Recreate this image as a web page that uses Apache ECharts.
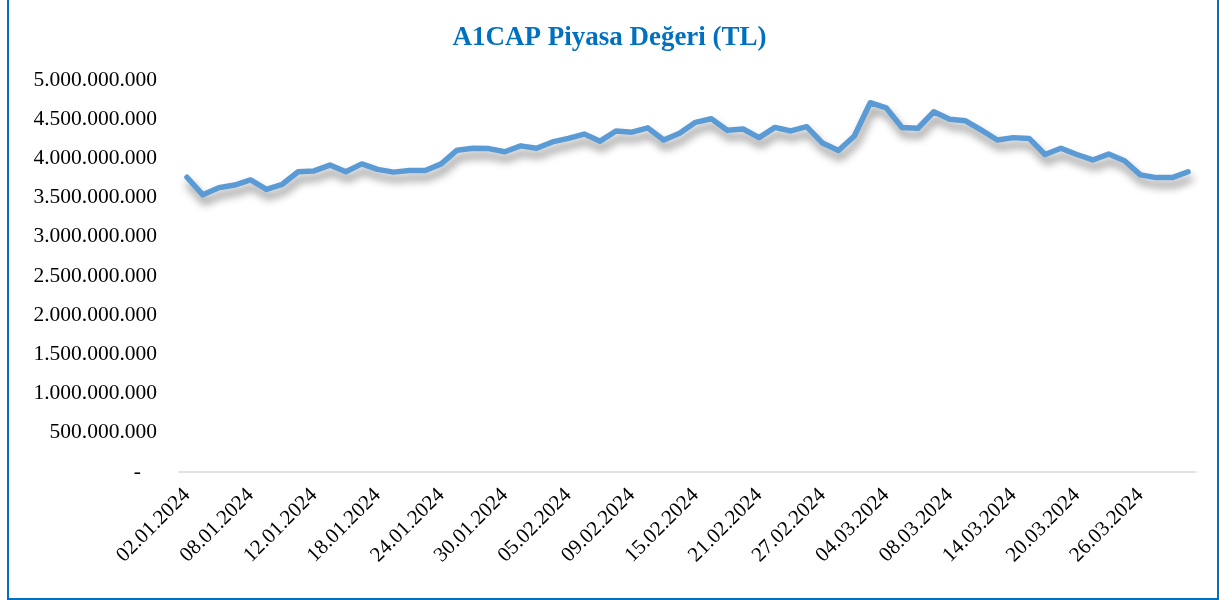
<!DOCTYPE html>
<html>
<head>
<meta charset="utf-8">
<script src="https://cdn.jsdelivr.net/npm/echarts@6/dist/echarts.min.js"></script>
<style>
  html, body { margin: 0; padding: 0; background: #fff; }
  .frame {
    position: absolute;
    left: 7px;
    top: -3px;
    width: 1208px;
    height: 599px;
    border: 2px solid #0070c0;
  }
  #piyasaChart {
    position: absolute;
    left: 0;
    top: 0;
    width: 1219px;
    height: 600px;
  }
</style>
</head>
<body>
<div class="frame"></div>
<div id="piyasaChart"></div>
<script>
// islem gunleri (Ocak - Mart 2024)
const dates = [
  '02.01.2024', '03.01.2024', '04.01.2024', '05.01.2024',
  '08.01.2024', '09.01.2024', '10.01.2024', '11.01.2024', '12.01.2024',
  '15.01.2024', '16.01.2024', '17.01.2024', '18.01.2024', '19.01.2024',
  '22.01.2024', '23.01.2024', '24.01.2024', '25.01.2024', '26.01.2024',
  '29.01.2024', '30.01.2024', '31.01.2024', '01.02.2024', '02.02.2024',
  '05.02.2024', '06.02.2024', '07.02.2024', '08.02.2024', '09.02.2024',
  '12.02.2024', '13.02.2024', '14.02.2024', '15.02.2024', '16.02.2024',
  '19.02.2024', '20.02.2024', '21.02.2024', '22.02.2024', '23.02.2024',
  '26.02.2024', '27.02.2024', '28.02.2024', '29.02.2024', '01.03.2024',
  '04.03.2024', '05.03.2024', '06.03.2024', '07.03.2024', '08.03.2024',
  '11.03.2024', '12.03.2024', '13.03.2024', '14.03.2024', '15.03.2024',
  '18.03.2024', '19.03.2024', '20.03.2024', '21.03.2024', '22.03.2024',
  '25.03.2024', '26.03.2024', '27.03.2024', '28.03.2024', '29.03.2024'
]

// piyasa degeri (TL)
const marketValue = [
  3760e6, 3535e6, 3625e6, 3660e6, 3725e6, 3605e6, 3670e6, 3830e6,
  3840e6, 3915e6, 3830e6, 3930e6, 3860e6, 3825e6, 3845e6, 3845e6,
  3930e6, 4105e6, 4130e6, 4125e6, 4085e6, 4160e6, 4130e6, 4210e6,
  4255e6, 4310e6, 4220e6, 4350e6, 4335e6, 4390e6, 4235e6, 4320e6,
  4460e6, 4505e6, 4360e6, 4375e6, 4265e6, 4395e6, 4350e6, 4405e6,
  4195e6, 4100e6, 4285e6, 4710e6, 4645e6, 4395e6, 4385e6, 4595e6,
  4500e6, 4480e6, 4360e6, 4235e6, 4265e6, 4255e6, 4050e6, 4130e6,
  4050e6, 3980e6, 4055e6, 3970e6, 3790e6, 3755e6, 3755e6, 3830e6
]

const chartTitle = 'A1CAP Piyasa Değeri (TL)'

const serif = '"Liberation Serif", "DejaVu Serif", serif'

function formatTl (v) {
  if (v === 0) return '-   '
  return String(Math.round(v)).replace(/\B(?=(\d{3})+(?!\d))/g, '.')
}

const dom = document.getElementById('piyasaChart')
const myChart = echarts.init(dom)
myChart.setOption({
  animation: false,
  title: {
    text: chartTitle,
    left: 'center',
    top: 20,
    textStyle: {
      fontFamily: serif,
      fontWeight: 'bold',
      fontSize: 27,
      color: '#0070c0'
    }
  },
  grid: {
    left: 179,
    right: 23,
    top: 80,
    bottom: 128,
    containLabel: false
  },
  xAxis: {
    type: 'category',
    boundaryGap: true,
    data: dates,
    axisTick: { show: false },
    axisLine: {
      lineStyle: { color: '#d9d9d9', width: 1.5 }
    },
    axisLabel: {
      interval: 3,
      rotate: 45,
      margin: 20,
      fontFamily: serif,
      fontSize: 21,
      color: '#000'
    }
  },
  yAxis: {
    type: 'value',
    min: 0,
    max: 5000000000,
    interval: 500000000,
    axisLine: { show: false },
    axisTick: { show: false },
    splitLine: { show: false },
    axisLabel: {
      margin: 22,
      fontFamily: serif,
      fontSize: 21.5,
      color: '#000',
      formatter: formatTl
    }
  },
  series: [
    {
      name: 'Piyasa Değeri',
      type: 'line',
      data: marketValue,
      symbol: 'none',
      lineStyle: {
        color: '#5b9bd5',
        width: 5.5,
        join: 'round',
        cap: 'round',
        shadowColor: 'rgba(0, 0, 0, 0.45)',
        shadowBlur: 8,
        shadowOffsetX: 2,
        shadowOffsetY: 7
      }
    }
  ]
})
window.addEventListener('resize', () => {
  myChart.resize()
})
</script>
</body>
</html>
